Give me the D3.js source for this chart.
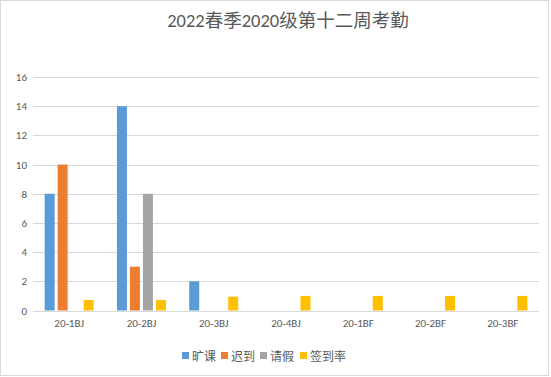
<!DOCTYPE html>
<html><head><meta charset="utf-8">
<script src="https://cdn.jsdelivr.net/npm/d3@7"></script>
<style>
html,body{margin:0;padding:0;background:#fff;}
svg{display:block;}
text{font-family:Calibri,Carlito,"Noto Sans CJK SC","Noto Sans",sans-serif;}
</style></head>
<body>
<svg id="chart" width="551" height="377"></svg>
<script>
const title = "2022春季2020级第十二周考勤";
const categories = ["20-1BJ","20-2BJ","20-3BJ","20-4BJ","20-1BF","20-2BF","20-3BF"];
const seriesNames = ["旷课","迟到","请假","签到率"];
const absent = [8,14,2,0,0,0,0];
const late = [10,3,0,0,0,0,0];
const leave = [0,8,0,0,0,0,0];
const signRate = [0.72,0.72,0.95,1,1,1,1];
const yTicks = [0,2,4,6,8,10,12,14,16];
const colors = ["#5b9bd5","#ed7d31","#a5a5a5","#ffc000"];

const seriesValues = [absent, late, leave, signRate];
const svg = d3.select("#chart");
const W = 551, H = 377;
const m = {left:33, right:539, top:77, bottom:310.5};

svg.append("rect").attr("x",0.5).attr("y",0.5).attr("width",W-3).attr("height",H-2)
  .attr("fill","#fff").attr("stroke","#d9d9d9");

svg.append("text").attr("x",288).attr("y",27).attr("text-anchor","middle")
  .attr("font-size",18.5).attr("fill","#595959").text(title);

const x0 = d3.scaleBand().domain(categories).range([m.left,m.right]).paddingInner(0).paddingOuter(0);
const bw = x0.bandwidth();
const padO = (bw-49)/2;
const x1 = d3.scaleBand().domain(seriesNames).range([padO,bw-padO]).paddingInner(0.23).paddingOuter(0);
const y = d3.scaleLinear().domain([0,16]).range([m.bottom,m.top]);

// gridlines
svg.append("g").selectAll("line").data(yTicks).join("line")
  .attr("x1",m.left).attr("x2",m.right)
  .attr("y1",d=>Math.round(y(d))+0.5).attr("y2",d=>Math.round(y(d))+0.5)
  .attr("stroke","#d9d9d9").attr("stroke-width",1);

// y axis labels
const yAxis = d3.axisLeft(y).tickValues(yTicks).tickSize(0).tickPadding(0);
const gy = svg.append("g").attr("transform",`translate(${m.left-6},0)`).call(yAxis);
gy.select(".domain").remove();
gy.selectAll("text").attr("font-size",11).attr("fill","#595959")
  .attr("font-family",'Calibri,Carlito,"Noto Sans",sans-serif');

// x axis labels
const xAxis = d3.axisBottom(x0).tickSize(0).tickPadding(0);
const gx = svg.append("g").attr("transform",`translate(0,${m.bottom+9})`).call(xAxis);
gx.select(".domain").remove();
gx.selectAll("text").attr("font-size",11).attr("fill","#595959")
  .attr("font-family",'Calibri,Carlito,"Noto Sans",sans-serif');

// bars
const data = categories.map((c,i)=>({cat:c, vals:seriesNames.map((s,j)=>({s, v:seriesValues[j][i], j}))}));
svg.append("g").selectAll("g").data(data).join("g")
  .attr("transform",d=>`translate(${x0(d.cat)},0)`)
  .selectAll("rect").data(d=>d.vals.filter(v=>v.v>0)).join("rect")
  .attr("x",d=>x1(d.s)).attr("width",x1.bandwidth())
  .attr("y",d=>y(d.v)).attr("height",d=>y(0)-y(d.v))
  .attr("fill",d=>colors[d.j]);

// legend
const legendX = [182,221,260,300];
const lg = svg.append("g").selectAll("g").data(seriesNames).join("g")
  .attr("transform",(d,i)=>`translate(${legendX[i]},356)`);
lg.append("rect").attr("x",0).attr("y",-4).attr("width",7).attr("height",7).attr("fill",(d,i)=>colors[i]);
lg.append("text").attr("x",10).attr("y",4.5).attr("font-size",12).attr("fill","#595959").text(d=>d);
</script>
</body></html>
